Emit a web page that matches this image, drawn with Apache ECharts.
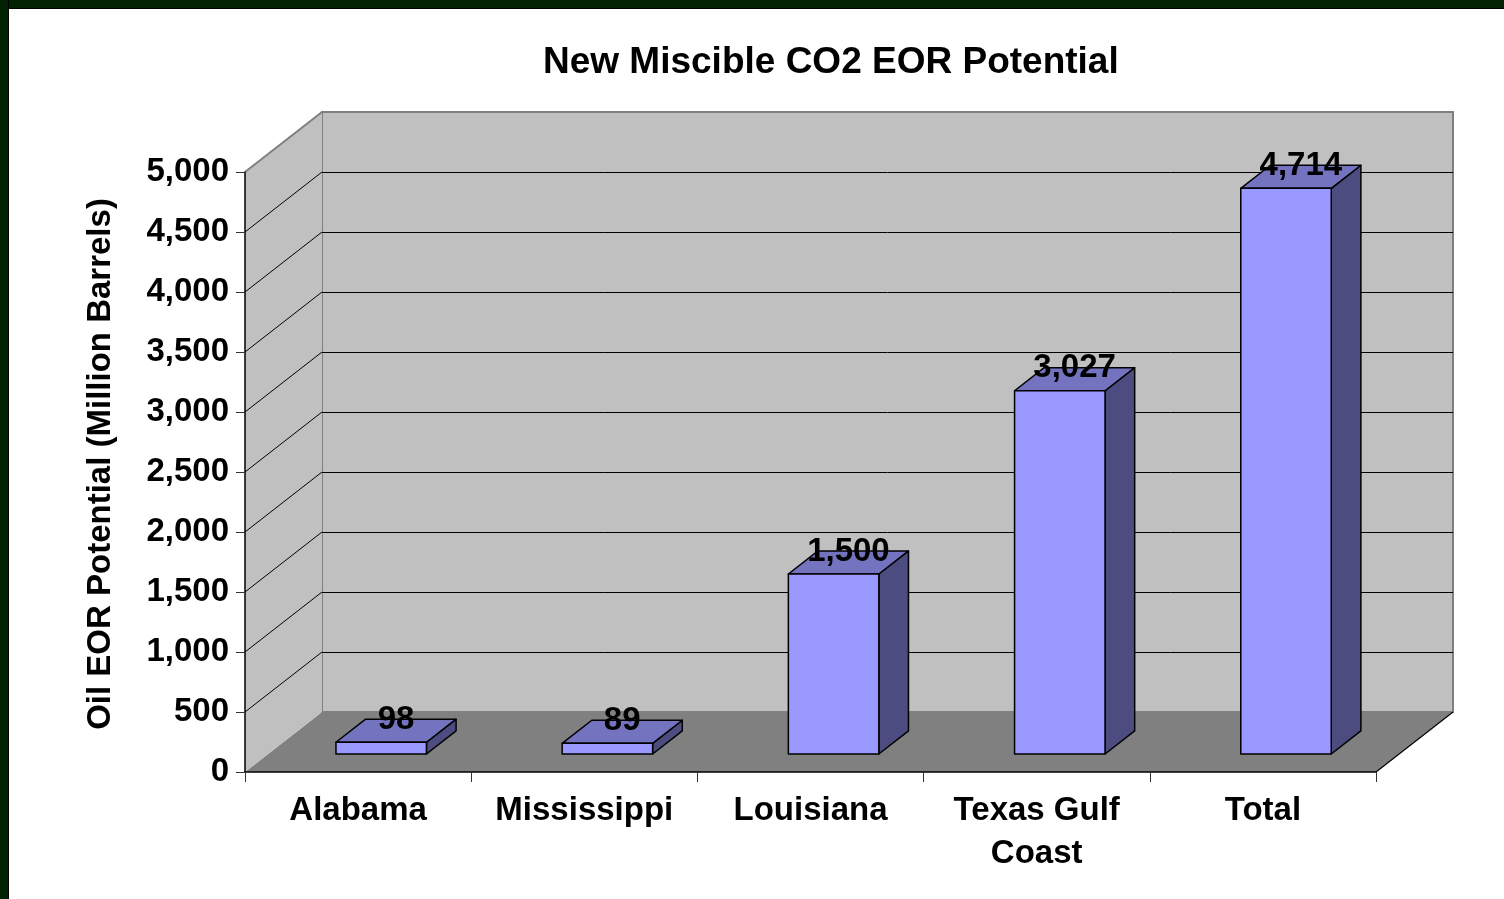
<!DOCTYPE html>
<html><head><meta charset="utf-8">
<script src="https://cdn.jsdelivr.net/npm/echarts@6/dist/echarts.min.js"></script>
<style>
html,body{margin:0;padding:0;background:#fff;}
#chart{position:absolute;left:0;top:0;width:1504px;height:899px;}
.bt{position:absolute;left:0;top:0;width:1504px;height:8px;background:#002200;border-bottom:1px solid #000;}
.bl{position:absolute;left:0;top:0;width:8px;height:899px;background:#002200;border-right:1px solid #000;}
</style></head><body>
<div id="chart"></div><div class="bt"></div><div class="bl"></div>
<script>
const categories = ['Alabama', 'Mississippi', 'Louisiana', 'Texas Gulf\nCoast', 'Total'];
const values = [98, 89, 1500, 3027, 4714];
const yTicks = [0, 500, 1000, 1500, 2000, 2500, 3000, 3500, 4000, 4500, 5000];
const titleText = 'New Miscible CO2 EOR Potential';
const yAxisName = 'Oil EOR Potential (Million Barrels)';

const FONT = '"Liberation Sans", Arial, sans-serif';
const DEPTH = [77, -60];
const BAR_OFFSET = 0.3;
const BAR_DEPTH = 0.385;
const BAR_WIDTH = 0.4;
const TITLE_CENTER_X = 830.5;
const fmt = v => Number(v).toLocaleString('en-US');
const yMin = yTicks[0], yMax = yTicks[yTicks.length - 1], yStep = yTicks[1] - yTicks[0];

const mctx = document.createElement('canvas').getContext('2d');
mctx.font = 'bold 37px ' + FONT;
const titleWidth = mctx.measureText(titleText).width;

function renderWalls(params, api) {
  const cs = params.coordSys;
  const x0 = cs.x, x1 = cs.x + cs.width;
  const yb = api.coord([0, yMin])[1], yt = api.coord([0, yMax])[1];
  const dx = DEPTH[0], dy = DEPTH[1];
  const children = [
    {type: 'polygon', shape: {points: [[x0, yb], [x1, yb], [x1 + dx, yb + dy], [x0 + dx, yb + dy]]}, style: {fill: '#808080'}},
    {type: 'polygon', shape: {points: [[x0, yb], [x0 + dx, yb + dy], [x0 + dx, yt + dy], [x0, yt]]}, style: {fill: '#C0C0C0'}}
  ];
  yTicks.slice(1, -1).forEach(t => {
    const y = api.coord([0, t])[1];
    children.push({type: 'line', shape: {x1: x0, y1: y, x2: x0 + dx, y2: y + dy}, style: {stroke: '#000', lineWidth: 1}});
  });
  children.push({type: 'line', shape: {x1: x0, y1: yt, x2: x0 + dx, y2: yt + dy}, style: {stroke: '#808080', lineWidth: 2}});
  children.push({type: 'line', shape: {x1: x1, y1: yb, x2: x1 + dx, y2: yb + dy}, style: {stroke: '#000', lineWidth: 1.2}});
  return {type: 'group', children: children};
}

function renderBar(params, api) {
  const i = api.value(0), v = api.value(1);
  const top = api.coord([i, v]);
  const base = api.coord([i, 0]);
  const bw = api.size([1, 0])[0] * BAR_WIDTH;
  const ox = DEPTH[0] * BAR_OFFSET, oy = DEPTH[1] * BAR_OFFSET;
  const bx = DEPTH[0] * BAR_DEPTH, by = DEPTH[1] * BAR_DEPTH;
  const xl = top[0] + ox - bw / 2, xr = top[0] + ox + bw / 2;
  const yt = top[1] + oy, yb = base[1] + oy;
  const st = {stroke: '#000', lineWidth: 1.5, lineJoin: 'round'};
  return {type: 'group', children: [
    {type: 'polygon', shape: {points: [[xr, yb], [xr + bx, yb + by], [xr + bx, yt + by], [xr, yt]]}, style: Object.assign({fill: '#4C4C80'}, st)},
    {type: 'polygon', shape: {points: [[xl, yt], [xr, yt], [xr + bx, yt + by], [xl + bx, yt + by]]}, style: Object.assign({fill: '#7373C0'}, st)},
    {type: 'rect', shape: {x: xl, y: yt, width: bw, height: yb - yt}, style: Object.assign({fill: '#9999FF'}, st)},
    {type: 'text', x: (xl + xr) / 2 + bx / 2, y: yt + by / 2 - 11, style: {text: fmt(v), fontSize: 33, fontWeight: 'bold', fontFamily: FONT, fill: '#000', align: 'center', verticalAlign: 'middle'}}
  ]};
}

const labelStyle = {fontSize: 33, fontWeight: 'bold', color: '#000', fontFamily: FONT};

const chart = echarts.init(document.getElementById('chart'), null, {renderer: 'canvas'});
chart.setOption({
  animation: false,
  backgroundColor: '#fff',
  title: {
    text: titleText, left: Math.round(TITLE_CENTER_X - titleWidth / 2), top: 44, padding: 0,
    textStyle: {fontSize: 37, fontWeight: 'bold', color: '#000', fontFamily: FONT}
  },
  grid: [
    {left: 245, right: 128, top: 172, bottom: 127, show: false, outerBoundsMode: 'none'},
    {left: 322, right: 51, top: 112, bottom: 187, show: true, backgroundColor: '#C0C0C0', borderColor: '#808080', borderWidth: 2, outerBoundsMode: 'none'}
  ],
  xAxis: [
    {gridIndex: 0, type: 'category', data: categories, boundaryGap: true, z: 5,
     axisLine: {show: true, lineStyle: {color: '#000', width: 1.5}},
     axisTick: {show: true, length: 10, alignWithLabel: false, lineStyle: {color: '#333', width: 1}},
     axisLabel: Object.assign({margin: 17, lineHeight: 43, interval: 0}, labelStyle),
     splitLine: {show: false}},
    {gridIndex: 1, type: 'category', data: categories, show: false}
  ],
  yAxis: [
    {gridIndex: 0, type: 'value', min: yMin, max: yMax, interval: yStep, z: 5,
     axisLine: {show: true, lineStyle: {color: '#000', width: 1.5}},
     axisTick: {show: true, length: 9, lineStyle: {color: '#333', width: 1}},
     axisLabel: Object.assign({margin: 16, padding: [5, 0, 0, 0], formatter: v => fmt(v)}, labelStyle),
     splitLine: {show: false},
     name: yAxisName, nameLocation: 'middle', nameRotate: 90, nameGap: 128,
     nameTextStyle: Object.assign({padding: [0, 0, 0, 16]}, labelStyle)},
    {gridIndex: 1, type: 'value', min: yMin, max: yMax, interval: yStep,
     axisLine: {show: false}, axisTick: {show: false}, axisLabel: {show: false},
     splitLine: {show: true, showMinLine: false, showMaxLine: false, lineStyle: {color: '#000', width: 1}}}
  ],
  series: [
    {type: 'custom', name: 'walls', xAxisIndex: 0, yAxisIndex: 0, z: 1, silent: true, clip: false,
     data: [[0, 0]], renderItem: renderWalls},
    {type: 'custom', name: 'EOR', xAxisIndex: 0, yAxisIndex: 0, z: 2, clip: false,
     data: values.map((v, i) => [i, v]), encode: {x: 0, y: 1}, renderItem: renderBar}
  ]
});
</script>
</body></html>
